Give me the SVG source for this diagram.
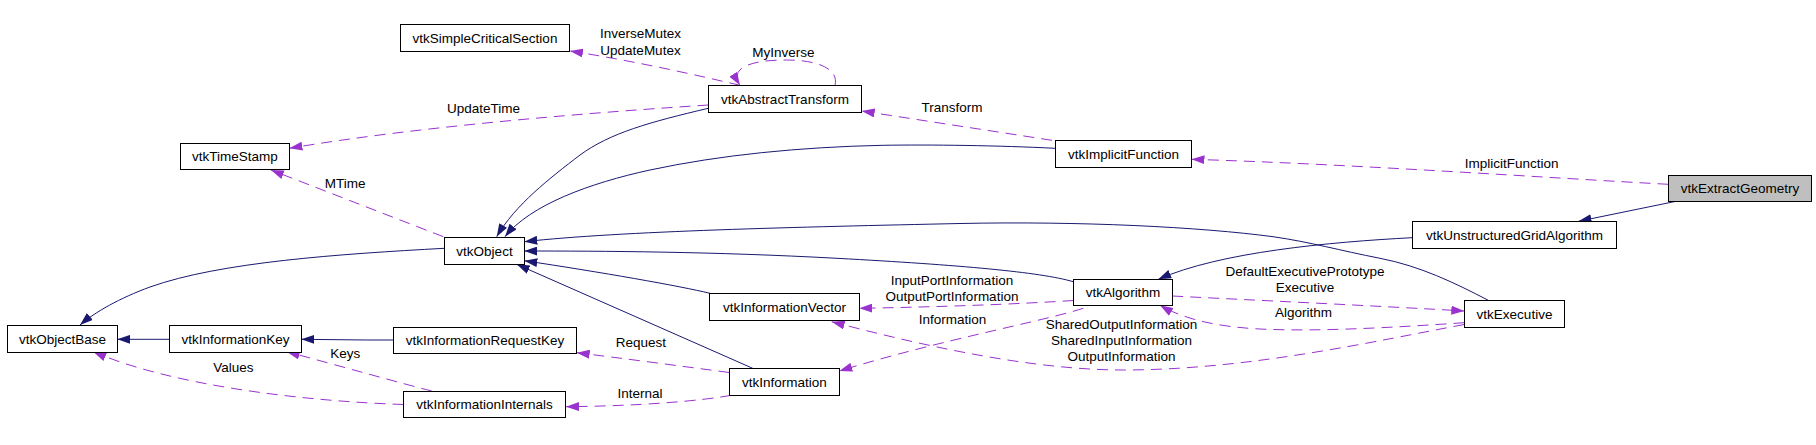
<svg xmlns="http://www.w3.org/2000/svg" width="1816" height="445" viewBox="0 0 1816 445">
<defs>
<style>
.node rect{fill:#ffffff;stroke:#000000;stroke-width:1}
.node text,.lbl{font-family:"Liberation Sans",Arial,Helvetica,sans-serif;font-size:13.5px;fill:#000000;text-anchor:middle}
.inh{fill:none;stroke:#191970;stroke-width:1;marker-end:url(#an)}
.use{fill:none;stroke:#9a32cd;stroke-width:1;stroke-dasharray:11,7;marker-end:url(#ap)}
</style>
<marker id="an" viewBox="0 0 13 9" refX="13" refY="4.5" markerWidth="13" markerHeight="9" markerUnits="userSpaceOnUse" orient="auto">
<path d="M0,0 L13,4.5 L0,9 z" fill="#191970" stroke="none"/>
</marker>
<marker id="ap" viewBox="0 0 13 9" refX="13" refY="4.5" markerWidth="13" markerHeight="9" markerUnits="userSpaceOnUse" orient="auto">
<path d="M0,0 L13,4.5 L0,9 z" fill="#9a32cd" stroke="none"/>
</marker>
</defs>
<rect x="0" y="0" width="1816" height="445" fill="#ffffff"/>

<g id="connectors">
<path class="inh" d="M1675,201.5 L1578.5,221.3"/>
<path class="inh" d="M1412,237.7 C1330,242 1220,252 1158.3,279.3"/>
<path class="inh" d="M1073.3,281.7 C1040,272 960,265 837,258.3 S600,251 524.3,251"/>
<path class="inh" d="M710,293.3 C680,286 600,272 524.3,260.7"/>
<path class="inh" d="M752.7,368.3 L516.7,264.3"/>
<path class="inh" d="M1488.3,300.3 C1455,283 1420,266 1380,258.3 C1340,250.5 1310,242 1273,236.7 C1200,227 1080,221 960,223.5 C800,227 620,231 524.3,241.7"/>
<path class="inh" d="M708.3,108.3 C650,122 610,133 580,155 C550,178 515,205 496.7,236.7"/>
<path class="inh" d="M1055,148.3 C1000,145.5 930,144.5 883.3,145.3 C800,147 720,155 650,170 C590,183 530,205 505,236.7"/>
<path class="inh" d="M444.3,248.3 C340,254 220,262 150,287 C120,298 95,312 80,325"/>
<path class="inh" d="M169.3,339.3 L117.3,339.3"/>
<path class="inh" d="M393.3,340 L366.7,340 L301.3,339.3"/>

<path class="use" d="M740,85.3 C700,76 640,62 570,51"/>
<path class="use" d="M835,85.3 C839,70 820,60 786.7,60 C755,60 728,66 740,85.3"/>
<path class="use" d="M708.3,105 C600,112 420,126 289.4,148.3"/>
<path class="use" d="M443.3,236.7 L270.9,170"/>
<path class="use" d="M1052,140.3 L861.7,111"/>
<path class="use" d="M1668.3,184.3 C1550,178 1350,164 1191.5,159.3"/>
<path class="use" d="M1073.3,300.5 C1020,304 940,307 859.3,308.3"/>
<path class="use" d="M1083.3,308.3 C1040,322 940,340 839.3,371"/>
<path class="use" d="M1172.3,296 C1250,300 1380,306 1464.3,311"/>
<path class="use" d="M1464.3,322.7 C1400,327 1320,332 1260,329 C1220,327 1185,320 1160,305.3"/>
<path class="use" d="M1464.3,324.5 C1380,340 1250,370 1123.3,370 C1030,370 920,345 831.7,321.7"/>
<path class="use" d="M729.3,372.5 C680,366 620,358 576.7,352.7"/>
<path class="use" d="M731,395.3 C700,401 640,406 566,406.7"/>
<path class="use" d="M431.7,391 C400,383 340,366 286.7,351.7"/>
<path class="use" d="M403.3,404.5 C300,401 170,385 93.3,351.7"/>

<text class="lbl" x="640.5" y="38.3">InverseMutex</text>
<text class="lbl" x="640.5" y="55">UpdateMutex</text>
<text class="lbl" x="783.4" y="56.7">MyInverse</text>
<text class="lbl" x="483.6" y="113">UpdateTime</text>
<text class="lbl" x="952" y="111.7">Transform</text>
<text class="lbl" x="1511.7" y="167.7">ImplicitFunction</text>
<text class="lbl" x="345.2" y="188">MTime</text>
<text class="lbl" x="952" y="285">InputPortInformation</text>
<text class="lbl" x="952" y="300.5">OutputPortInformation</text>
<text class="lbl" x="952.5" y="324.3">Information</text>
<text class="lbl" x="1305" y="276">DefaultExecutivePrototype</text>
<text class="lbl" x="1305" y="291.7">Executive</text>
<text class="lbl" x="1303.4" y="316.7">Algorithm</text>
<text class="lbl" x="1121.5" y="329">SharedOutputInformation</text>
<text class="lbl" x="1121.5" y="344.5">SharedInputInformation</text>
<text class="lbl" x="1121.5" y="360.7">OutputInformation</text>
<text class="lbl" x="640.8" y="347.3">Request</text>
<text class="lbl" x="640" y="398.3">Internal</text>
<text class="lbl" x="345.2" y="358.3">Keys</text>
<text class="lbl" x="233.3" y="371.7">Values</text>
</g>

<g id="vtkExtractGeometry" class="node"><rect x="1668.5" y="175.5" width="143" height="26" style="fill:#bfbfbf"/><text x="1740" y="193">vtkExtractGeometry</text></g>
<g id="vtkUnstructuredGridAlgorithm" class="node"><rect x="1412.5" y="221.5" width="204" height="27"/><text x="1514.5" y="239.5">vtkUnstructuredGridAlgorithm</text></g>
<g id="vtkImplicitFunction" class="node"><rect x="1055.5" y="140.5" width="136" height="27"/><text x="1123.5" y="158.5">vtkImplicitFunction</text></g>
<g id="vtkAbstractTransform" class="node"><rect x="708.5" y="85.5" width="153" height="27"/><text x="785" y="103.5">vtkAbstractTransform</text></g>
<g id="vtkSimpleCriticalSection" class="node"><rect x="400.5" y="24.5" width="169" height="27"/><text x="485" y="42.5">vtkSimpleCriticalSection</text></g>
<g id="vtkTimeStamp" class="node"><rect x="180.5" y="143.5" width="109" height="26"/><text x="235" y="161">vtkTimeStamp</text></g>
<g id="vtkObject" class="node"><rect x="444.5" y="237.5" width="80" height="27"/><text x="484.5" y="255.5">vtkObject</text></g>
<g id="vtkAlgorithm" class="node"><rect x="1073.5" y="279.5" width="99" height="26"/><text x="1123" y="297">vtkAlgorithm</text></g>
<g id="vtkInformationVector" class="node"><rect x="709.5" y="293.5" width="150" height="27"/><text x="784.5" y="311.5">vtkInformationVector</text></g>
<g id="vtkExecutive" class="node"><rect x="1464.5" y="300.5" width="100" height="27"/><text x="1514.5" y="318.5">vtkExecutive</text></g>
<g id="vtkObjectBase" class="node"><rect x="7.5" y="325.5" width="110" height="27"/><text x="62.5" y="343.5">vtkObjectBase</text></g>
<g id="vtkInformationKey" class="node"><rect x="169.5" y="325.5" width="132" height="27"/><text x="235.5" y="343.5">vtkInformationKey</text></g>
<g id="vtkInformationRequestKey" class="node"><rect x="393.5" y="327.5" width="183" height="26"/><text x="485" y="345">vtkInformationRequestKey</text></g>
<g id="vtkInformation" class="node"><rect x="729.5" y="368.5" width="110" height="27"/><text x="784.5" y="386.5">vtkInformation</text></g>
<g id="vtkInformationInternals" class="node"><rect x="403.5" y="391.5" width="162" height="26"/><text x="484.5" y="409">vtkInformationInternals</text></g>
</svg>
